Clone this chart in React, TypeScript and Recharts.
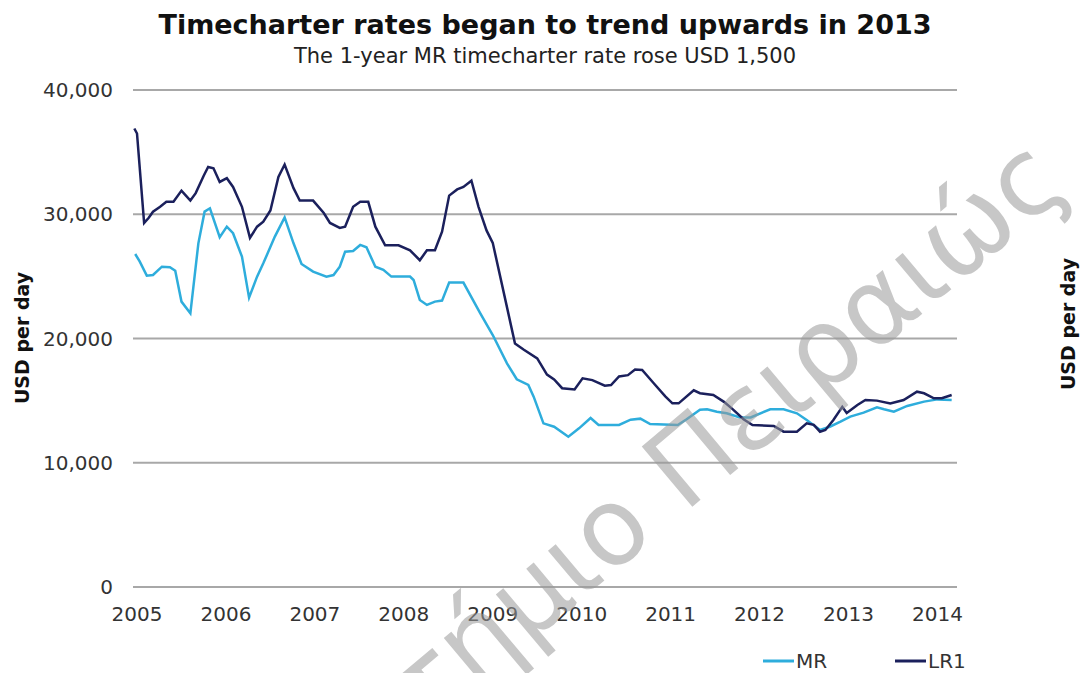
import { LineChart, Line, XAxis, YAxis, CartesianGrid } from "recharts";

// 1-year timecharter rates, USD per day
const lr1Years = [
  2004.97, 2005.0, 2005.08, 2005.13, 2005.18, 2005.26, 2005.33, 2005.41, 2005.5, 2005.55,
  2005.6, 2005.66, 2005.75, 2005.8, 2005.86, 2005.93, 2006.01, 2006.08, 2006.18, 2006.27,
  2006.35, 2006.42, 2006.5, 2006.59, 2006.66, 2006.76, 2006.83, 2006.98, 2007.1, 2007.17,
  2007.28, 2007.34, 2007.43, 2007.51, 2007.6, 2007.68, 2007.79, 2007.94, 2008.07, 2008.18,
  2008.26, 2008.35, 2008.43, 2008.51, 2008.6, 2008.67, 2008.76, 2008.84, 2008.93, 2009.0,
  2009.25, 2009.35, 2009.5, 2009.61, 2009.69, 2009.78, 2009.92, 2010.01, 2010.12, 2010.26,
  2010.33, 2010.42, 2010.52, 2010.6, 2010.68, 2010.81, 2010.94, 2011.02, 2011.09, 2011.26,
  2011.33, 2011.48, 2011.6, 2011.7, 2011.82, 2011.92, 2012.16, 2012.27, 2012.42, 2012.53,
  2012.61, 2012.68, 2012.74, 2012.83, 2012.93, 2012.98, 2013.1, 2013.19, 2013.32, 2013.47,
  2013.62, 2013.77, 2013.85, 2013.96, 2014.05, 2014.16,
];
const lr1Values = [
  36900, 36500, 29300, 29700, 30200, 30600, 31000, 31000, 31900, 31500,
  31100, 31700, 33100, 33800, 33700, 32600, 32900, 32200, 30600, 28100,
  29000, 29400, 30300, 33000, 34000, 32100, 31100, 31100, 30100, 29300,
  28900, 29000, 30600, 31000, 31000, 29000, 27500, 27500, 27100, 26300,
  27100, 27100, 28600, 31500, 32000, 32200, 32700, 30600, 28700, 27700,
  19600, 19100, 18400, 17100, 16700, 16000, 15900, 16800, 16650, 16200,
  16250, 16950, 17050, 17500, 17470, 16400, 15350, 14780, 14780, 15830,
  15600, 15450, 14900, 14300, 13500, 13040, 12960, 12500, 12500, 13170,
  13050, 12500, 12640, 13440, 14500, 14000, 14650, 15050, 15000, 14780,
  15050, 15720, 15590, 15190, 15190, 15450,
];

const mrYears = [
  2004.98, 2005.03, 2005.11, 2005.18, 2005.28, 2005.37, 2005.43, 2005.5, 2005.6, 2005.69,
  2005.76, 2005.82, 2005.93, 2006.01, 2006.08, 2006.18, 2006.26, 2006.35, 2006.42, 2006.55,
  2006.66, 2006.76, 2006.85, 2006.98, 2007.13, 2007.21, 2007.28, 2007.34, 2007.43, 2007.51,
  2007.58, 2007.68, 2007.77, 2007.86, 2008.07, 2008.11, 2008.18, 2008.26, 2008.35, 2008.43,
  2008.51, 2008.67, 2008.86, 2009.0, 2009.16, 2009.27, 2009.4, 2009.46, 2009.57, 2009.69,
  2009.85, 2009.97, 2010.1, 2010.19, 2010.42, 2010.55, 2010.66, 2010.77, 2011.08, 2011.18,
  2011.33, 2011.41, 2011.52, 2011.63, 2011.78, 2011.9, 2012.12, 2012.27, 2012.42, 2012.53,
  2012.68, 2012.79, 2012.91, 2013.02, 2013.17, 2013.32, 2013.4, 2013.51, 2013.66, 2013.85,
  2014.0, 2014.16,
];
const mrValues = [
  26800, 26200, 25060, 25110, 25780, 25730, 25460, 22970, 22030, 27660,
  30210, 30480, 28150, 29000, 28470, 26590, 23290, 24980, 26050, 28200,
  29750, 27660, 26000, 25380, 24980, 25110, 25780, 26990, 27040, 27530,
  27340, 25780, 25520, 24980, 24980, 24710, 23100, 22700, 22970, 23050,
  24500, 24500, 22030, 20280, 18000, 16720, 16260, 15320, 13170, 12900,
  12100, 12770, 13600, 13040, 13040, 13470, 13550, 13120, 13040, 13500,
  14270, 14300, 14110, 13980, 13650, 13650, 14300, 14300, 13980, 13440,
  12640, 12900, 13310, 13710, 14030, 14460, 14300, 14110, 14570, 14920,
  15100, 15050,
];

const yearTicks = [2005, 2006, 2007, 2008, 2009, 2010, 2011, 2012, 2013, 2014];
const valueTicks = [0, 10000, 20000, 30000, 40000];

const MR_COLOR = "#2eaddc";
const LR1_COLOR = "#1b205c";
const FONT = "'DejaVu Sans', Verdana, sans-serif";

const mrData = mrYears.map((x, i) => ({ x, v: mrValues[i] }));
const lr1Data = lr1Years.map((x, i) => ({ x, v: lr1Values[i] }));

const fmt = (v: number) => v.toLocaleString("en-US");

export default function App() {
  return (
    <div
      style={{
        position: "absolute",
        left: 0,
        top: 0,
        width: 1081,
        height: 673,
        background: "#fff",
        fontFamily: FONT,
        color: "#222",
      }}
    >
      <div style={{ position: "absolute", top: 9, left: 0, width: 1090, textAlign: "center", fontWeight: "bold", fontSize: 27, lineHeight: "32px", color: "#111" }}>
        Timecharter rates began to trend upwards in 2013
      </div>
      <div style={{ position: "absolute", top: 44, left: 0, width: 1090, textAlign: "center", fontSize: 21, lineHeight: "25px", color: "#222" }}>
        The 1-year MR timecharter rate rose USD 1,500
      </div>

      <LineChart width={1081} height={673} margin={{ top: 90, right: 24, bottom: 56, left: 33 }}>
        <CartesianGrid vertical={false} stroke="#a8a8a8" strokeWidth={2} yAxisId="left" />
        <XAxis
          dataKey="x"
          type="number"
          domain={[2004.955, 2014.22]}
          ticks={yearTicks}
          interval={0}
          allowDataOverflow
          axisLine={false}
          tickLine={false}
          tickMargin={14}
          tick={{ fontSize: 20, fill: "#333", fontFamily: FONT }}
        />
        <YAxis
          yAxisId="left"
          width={100}
          domain={[0, 40000]}
          ticks={valueTicks}
          tickFormatter={fmt}
          axisLine={false}
          tickLine={false}
          tickMargin={14}
          tick={{ fontSize: 20, fill: "#333", fontFamily: FONT }}
        />
        <YAxis
          yAxisId="right"
          orientation="right"
          width={100}
          domain={[0, 40000]}
          ticks={valueTicks}
          tickFormatter={fmt}
          axisLine={false}
          tickLine={false}
          tickMargin={15}
          tick={{ fontSize: 20, fill: "#333", fontFamily: FONT, textAnchor: "start", dx: 8 }}
        />
        <Line
          yAxisId="left"
          data={mrData}
          dataKey="v"
          name="MR"
          stroke={MR_COLOR}
          strokeWidth={2.5}
          dot={false}
          isAnimationActive={false}
        />
        <Line
          yAxisId="left"
          data={lr1Data}
          dataKey="v"
          name="LR1"
          stroke={LR1_COLOR}
          strokeWidth={2.5}
          dot={false}
          isAnimationActive={false}
        />
      </LineChart>

      <svg width={1081} height={673} style={{ position: "absolute", left: 0, top: 0, pointerEvents: "none" }}>
        <text x={22} y={338} transform="rotate(-90 22 338)" textAnchor="middle" dominantBaseline="central" fontWeight="bold" fontSize={19} fill="#111" fontFamily={FONT}>
          USD per day
        </text>
        <text x={1068} y={324} transform="rotate(-90 1068 324)" textAnchor="middle" dominantBaseline="central" fontWeight="bold" fontSize={19} fill="#111" fontFamily={FONT}>
          USD per day
        </text>
        <line x1={763} y1={661} x2={794} y2={661} stroke={MR_COLOR} strokeWidth={3} />
        <text x={796} y={661} dominantBaseline="central" fontSize={20} fill="#333" fontFamily={FONT}>MR</text>
        <line x1={895} y1={661} x2={926} y2={661} stroke={LR1_COLOR} strokeWidth={3} />
        <text x={928} y={661} dominantBaseline="central" fontSize={20} fill="#333" fontFamily={FONT}>LR1</text>
        <text
          x={1072}
          y={188}
          transform="rotate(-40 1072 188)"
          textAnchor="end"
          fontSize={108}
          fill="#9a9a9a"
          opacity={0.55}
          fontFamily={FONT}
        >
          Πανεπιστήμιο Πειραιώς
        </text>
      </svg>
    </div>
  );
}
